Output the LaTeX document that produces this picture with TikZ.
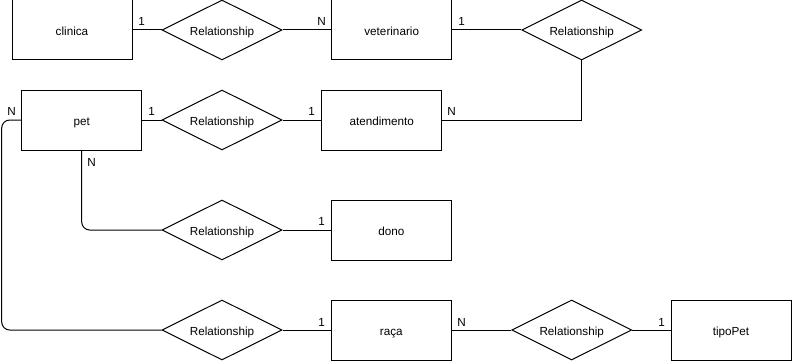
\documentclass[tikz,border=0pt]{standalone}
\usepackage{fontspec}
\setmainfont{Liberation Sans}
\usetikzlibrary{shapes.geometric}
\begin{document}
\begin{tikzpicture}[x=1pt,y=-1pt,
  every node/.style={font=\fontsize{11.7}{14}\selectfont},
  entity/.style={draw,line width=1pt,minimum width=120pt,minimum height=60pt,inner sep=0pt,text height=11pt,text depth=0pt},
  rel/.style={draw,line width=1pt,diamond,aspect=2,minimum width=120pt,minimum height=60pt,inner sep=0pt,text height=11pt,text depth=0pt},
  link/.style={line width=1pt},
  card/.style={inner sep=0pt,anchor=base}]
\useasboundingbox (0,0) rectangle (792,361);
% entities
\node[entity] (clinica) at (72,30) {clinica};
\node[entity] (vet) at (391.7,30) {veterinario};
\node[entity] (pet) at (81.7,120) {pet};
\node[entity] (atend) at (381.7,120) {atendimento};
\node[entity] (dono) at (391.3,230) {dono};
\node[entity] (raca) at (391.3,330) {raça};
\node[entity] (tipo) at (731,330) {tipoPet};
% relationships
\node[rel] (r1) at (222,30) {Relationship};
\node[rel] (r2) at (581.7,30) {Relationship};
\node[rel] (r3) at (222,120) {Relationship};
\node[rel] (r4) at (222,230) {Relationship};
\node[rel] (r5) at (222,330) {Relationship};
\node[rel] (r6) at (571.7,330) {Relationship};
% connectors
\draw[link] (clinica.east) -- (r1.west);
\draw[link] (r1.east) -- (vet.west);
\draw[link] (vet.east) -- (r2.west);
\draw[link] (r2.south) |- (atend.east);
\draw[link] (pet.east) -- (r3.west);
\draw[link] (r3.east) -- (atend.west);
\draw[link,rounded corners=8pt] (pet.south) |- (r4.west);
\draw[link] (r4.east) -- (dono.west);
\coordinate (bendTop) at (1.7,120);
\coordinate (bendBot) at (1.7,330);
\draw[link,rounded corners=8pt] (pet.west) -- (bendTop) -- (bendBot) -- (r5.west);
\draw[link] (r5.east) -- (raca.west);
\draw[link] (raca.east) -- (r6.west);
\draw[link] (r6.east) -- (tipo.west);
% cardinalities
\node[card] (c1) at (141.7,25.5) {1};
\node[card] (c2) at (321.7,25.5) {N};
\node[card] (c3) at (461.7,25.5) {1};
\node[card] (c4) at (11.7,115.5) {N};
\node[card] (c5) at (151.7,115.5) {1};
\node[card] (c6) at (311.7,115.5) {1};
\node[card] (c7) at (451.7,115.5) {N};
\node[card] (c8) at (91.7,166) {N};
\node[card] (c9) at (321.7,225.5) {1};
\node[card] (c10) at (321.7,326) {1};
\node[card] (c11) at (461.7,326) {N};
\node[card] (c12) at (661.7,326) {1};
\end{tikzpicture}
\end{document}
